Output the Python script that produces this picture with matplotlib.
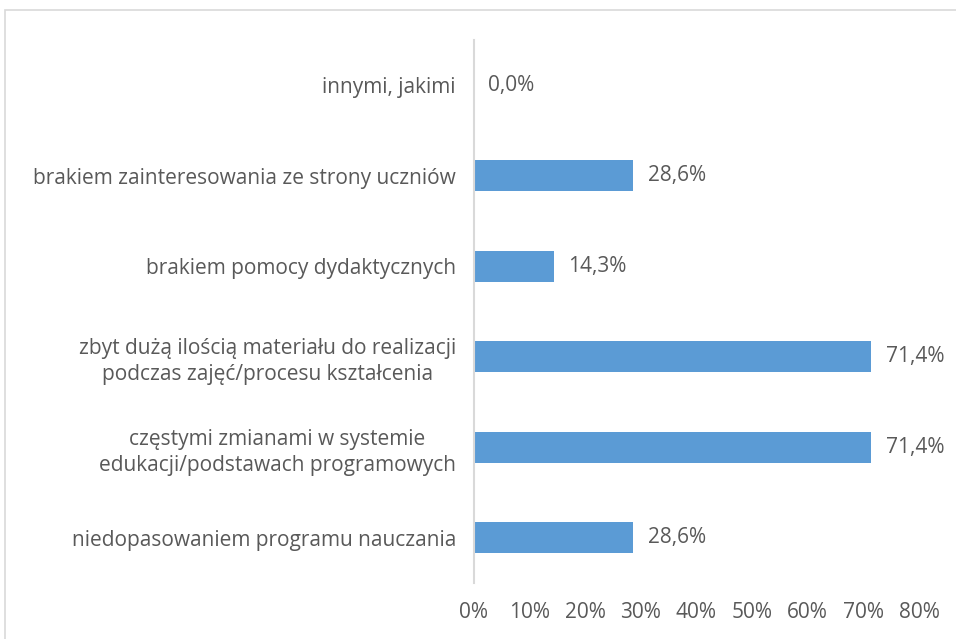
import matplotlib
matplotlib.use('Agg')
import matplotlib.pyplot as plt
from matplotlib.patches import Rectangle

# data (bottom to top, as drawn)
categories = [
    'niedopasowaniem programu nauczania',
    'częstymi zmianami w systemie\nedukacji/podstawach programowych',
    'zbyt dużą ilością materiału do realizacji\npodczas zajęć/procesu kształcenia',
    'brakiem pomocy dydaktycznych',
    'brakiem zainteresowania ze strony uczniów',
    'innymi, jakimi',
]
values = [28.6, 71.4, 71.4, 14.3, 28.6, 0.0]
xticks = [0, 10, 20, 30, 40, 50, 60, 70, 80]

W, H = 956, 639
text_col = '#595959'
fs = 15
plt.rcParams['font.family'] = ['Open Sans', 'DejaVu Sans']

fig = plt.figure(figsize=(W / 100, H / 100), dpi=100)
ax = fig.add_axes([474 / W, 1 - 583 / H, (919 - 474) / W, (583 - 40) / H])

ypos = list(range(len(categories)))
ax.barh(ypos, values, height=0.345, color='#5B9BD5')
for y, v in zip(ypos, values):
    ax.text(v + 2.6, y, ('%.1f%%' % v).replace('.', ','), va='center', ha='left',
            fontsize=fs, color=text_col)

ax.set_xlim(0, 80)
ax.set_ylim(-0.5, len(categories) - 0.5)
ax.set_xticks(xticks)
ax.set_xticklabels(['%d%%' % t for t in xticks])
ax.set_yticks(ypos)
ax.set_yticklabels(categories, ha='right', multialignment='center', linespacing=1.3)
ax.tick_params(axis='y', length=0, pad=13)
ax.tick_params(axis='x', length=0, pad=14)
for lab in ax.get_xticklabels() + ax.get_yticklabels():
    lab.set_fontsize(fs)
    lab.set_color(text_col)

for s in ['top', 'right', 'bottom']:
    ax.spines[s].set_visible(False)
ax.spines['left'].set_color('#D9D9D9')
ax.spines['left'].set_linewidth(1.5)

fig.add_artist(Rectangle((5 / W, -0.5), 2, 1.5 - 10 / H, transform=fig.transFigure,
                         fill=False, edgecolor='#D9D9D9', linewidth=1.2))

fig.savefig('out.png', dpi=100, facecolor='white')
